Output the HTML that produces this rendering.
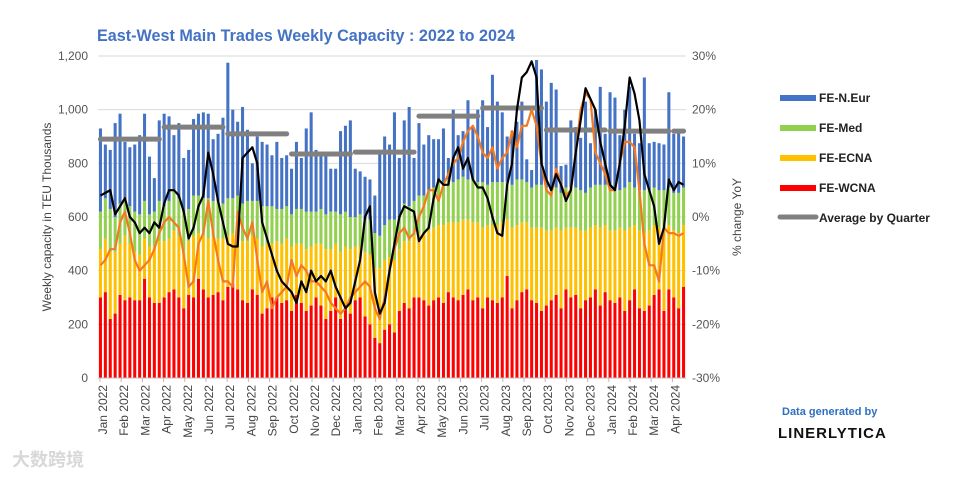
<!DOCTYPE html>
<html><head><meta charset="utf-8">
<style>
body{margin:0;background:#fff;width:958px;height:473px;overflow:hidden;font-family:"Liberation Sans Narrow","Liberation Sans",sans-serif;}
svg text{font-family:"Liberation Sans Narrow","Liberation Sans","Noto Sans CJK SC",sans-serif;}
</style></head>
<body>
<svg id="chart" width="958" height="473" xmlns="http://www.w3.org/2000/svg">
<text x="97" y="41" font-size="17" font-weight="bold" fill="#4472c4" textLength="418" lengthAdjust="spacingAndGlyphs">East-West Main Trades Weekly Capacity : 2022 to 2024</text>
<text transform="translate(51,217) rotate(-90)" text-anchor="middle" font-size="12" fill="#444">Weekly capacity in TEU Thousands</text>
<text transform="translate(741,217) rotate(-90)" text-anchor="middle" font-size="12" fill="#444">% change YoY</text>
<g id="grid"></g><g id="bars"></g><g id="avg"></g><g id="lines"></g><g id="axes"></g>
<g>
<rect x="780" y="95" width="36" height="6" fill="#4472c4"/>
<text x="819" y="102" font-size="12" font-weight="bold" fill="#222">FE-N.Eur</text>
<rect x="780" y="125" width="36" height="6" fill="#92d050"/>
<text x="819" y="132" font-size="12" font-weight="bold" fill="#222">FE-Med</text>
<rect x="780" y="155" width="36" height="6" fill="#ffc000"/>
<text x="819" y="162" font-size="12" font-weight="bold" fill="#222">FE-ECNA</text>
<rect x="780" y="185" width="36" height="6" fill="#ff0000"/>
<text x="819" y="192" font-size="12" font-weight="bold" fill="#222">FE-WCNA</text>
<line x1="780" y1="217" x2="816" y2="217" stroke="#808080" stroke-width="5" stroke-linecap="round"/>
<text x="819" y="222" font-size="12" font-weight="bold" fill="#222">Average by Quarter</text>
</g>
<text x="782" y="415" font-size="11" font-weight="bold" fill="#2e6fc0">Data generated by</text>
<text x="778" y="438" font-size="15" font-weight="bold" fill="#111" letter-spacing="1">LINERLYTICA</text>
<text x="12" y="466" font-size="18" font-weight="bold" fill="#d8d8d8">大数跨境</text>
</svg>
<script>
const red=[300,320,220,240,310,290,300,290,290,370,300,280,280,
300,320,330,300,260,310,300,370,330,300,310,320,290,
340,350,330,290,280,330,310,240,260,300,300,280,290,
250,310,280,250,270,300,270,220,250,300,220,260,240,
290,300,230,200,150,130,180,200,170,250,280,260,300,
300,290,270,290,300,280,320,300,290,310,330,290,300,
260,300,290,280,300,380,260,290,320,330,290,280,250,
270,290,310,260,330,300,310,260,290,300,330,270,320,
290,280,300,250,290,330,260,250,270,310,330,250,330,
300,260,340];
const yellow=[180,200,250,230,190,240,200,180,170,150,190,210,230,
210,200,220,230,210,200,230,170,200,220,220,200,230,
190,190,200,220,230,200,210,250,240,200,210,220,230,
240,190,220,230,220,200,230,260,230,200,250,230,240,
200,190,240,260,260,280,260,250,270,230,230,250,230,
240,250,280,270,270,290,260,280,290,280,260,290,280,
300,270,280,290,280,210,300,280,260,250,270,280,310,
280,260,250,290,230,260,250,290,260,260,240,290,250,
260,270,260,300,270,240,290,290,280,260,230,300,240,
250,280,230];
const green=[140,150,160,130,150,130,140,150,150,140,120,130,150,
130,140,150,140,150,120,150,140,140,150,130,140,130,
140,130,150,140,150,130,140,150,140,140,120,130,120,
120,130,130,140,130,120,130,130,140,120,140,130,120,
110,120,120,130,130,120,130,140,150,120,140,130,130,
140,140,150,150,160,150,160,150,160,160,150,160,150,
170,150,160,160,150,140,160,170,160,150,150,160,160,
160,150,150,140,150,150,150,150,140,150,150,160,150,
150,150,140,160,170,140,150,160,150,140,140,150,140,
140,150,140];
const total=[930,870,850,950,985,880,860,870,905,985,825,745,960,
985,975,905,950,820,850,965,985,990,985,890,910,970,
1175,1000,955,1010,925,800,900,880,870,830,880,820,830,
780,880,820,930,990,850,830,840,780,780,920,940,960,
780,770,750,740,680,850,900,870,990,820,960,1010,820,
950,870,905,890,890,930,820,1000,905,920,1035,935,1000,
1035,935,1130,1030,990,900,920,955,1030,815,775,1185,1150,
1030,1100,1075,790,795,960,935,895,1030,875,1000,1085,910,
1065,1045,905,1000,1085,910,875,1120,875,880,875,870,1065,
910,920,900];
const yoyBlack=[4,4.5,5,0.5,2,3.5,0,-1,-3,-2,-3,-1,-2,
2.5,5,5,4,1,-4,-2,2,4,12,8,3,-1,
-5,-5.5,-5.5,11,12,13,10,-1,-4,-7,-10,-12,-13,
-14,-16,-12,-14,-10,-12,-11,-12,-10,-13,-15,-17,-16,
-12,-8,0,2,-14,-18,-16,-10,-5,0,2,1.5,1,
-4.5,-3,-2,3.5,7,6,6,11,13,9,11,7,5.5,
5.5,3.5,0,-3,-3.5,6,10,20,26,27,29,26,10,
7,5,8,6,3,5,12,18,24,22,20,14,10,
6,5,10,17,26,23,18,8,5,2,-5,-2,7,
5,6.5,6];
const yoyOrange=[-9,-8,-6,-6,-1,1,-3,-8,-10,-9,-8,-6,-3,
-1,0,-1,-2,-7,-13,-12,-5,-3,3,-3,-8,-12,
-12,-13,1,-2,-4,-1,-8,-14,-12,-17,-15,-14,-13,
-8,-11,-9,-10,-12,-12,-13,-14,-16,-17,-18,-17,-15,
-14,-13,-12,-13,-17,-19,-15,-10,-6,-3,-2,-4,-3,
0,2,5,5,3,6,8,10,11,14,16,17,15,
12,11,13,9,11,12,16,13,17,17,20,17,10,
5,4,9,6,4,5,12,20,23,22,12,10,8,
5,5,10,14,14,13,5,-5,-9,-9,-12,-2,-3,
-3,-3.5,-3];
const qAvg=[890,935,910,835,842,976,1006,924,920,920];
const monthLabels=["Jan 2022","Feb 2022","Mar 2022","Apr 2022","May 2022","Jun 2022","Jul 2022","Aug 2022","Sep 2022","Oct 2022","Nov 2022","Dec 2022","Jan 2023","Feb 2023","Mar 2023","Apr 2023","May 2023","Jun 2023","Jul 2023","Aug 2023","Sep 2023","Oct 2023","Nov 2023","Dec 2023","Jan 2024","Feb 2024","Mar 2024","Apr 2024"];
const leftTicks=[0,200,400,600,800,1000,1200];
const rightTicks=[-30,-20,-10,0,10,20,30];

const NS="http://www.w3.org/2000/svg";
const X0=98,X1=686,Y0=378,Y1=56,N=total.length,step=(X1-X0)/N;
const xw=i=>X0+step*(i+0.5);
const yL=v=>Y0-(v/1200)*(Y0-Y1);
const yR=p=>Y0-((p+30)/60)*(Y0-Y1);
function el(tag,attrs,parent){const e=document.createElementNS(NS,tag);for(const k in attrs)e.setAttribute(k,attrs[k]);parent.appendChild(e);return e;}
const grid=document.getElementById('grid'),bars=document.getElementById('bars'),avg=document.getElementById('avg'),lines=document.getElementById('lines'),axes=document.getElementById('axes');
leftTicks.forEach(v=>{
  const g=el('line',{x1:X0,x2:X1,y1:yL(v),y2:yL(v),stroke:'#d9d9d9','stroke-width':1},grid);
  
  
  const t=el('text',{x:88,y:yL(v)+4,'text-anchor':'end','font-size':12,fill:'#555'},axes);
  t.textContent=v.toLocaleString('en-US');
  
  
});
rightTicks.forEach(p=>{
  const t=el('text',{x:692,y:yR(p)+4,'font-size':12,fill:'#555'},axes);
  t.textContent=p+'%';
  
  
});
const bw=step*0.62;
for(let i=0;i<N;i++){
  const segs=[[0,red[i],'#ff0000'],[red[i],red[i]+yellow[i],'#ffc000'],[red[i]+yellow[i],red[i]+yellow[i]+green[i],'#92d050'],[red[i]+yellow[i]+green[i],total[i],'#4472c4']];
  segs.forEach((s,j)=>{
    const r=el('rect',{x:xw(i)-bw/2,y:yL(s[1]),width:bw,height:Math.max(0,yL(s[0])-yL(s[1])),fill:s[2]},bars);
    
    
  });
}
qAvg.forEach((v,q)=>{
  const a=q*13,b=Math.min(N-1,q*13+12);
  const l=el('line',{x1:xw(a),x2:xw(b),y1:yL(v),y2:yL(v),stroke:'#808080','stroke-width':5,'stroke-linecap':'round'},avg);
  
  
});
const po=el('polyline',{points:yoyOrange.map((p,i)=>xw(i)+','+yR(p)).join(' '),fill:'none',stroke:'#f47920','stroke-width':2.2,'stroke-linejoin':'round'},lines);


const pb=el('polyline',{points:yoyBlack.map((p,i)=>xw(i)+','+yR(p)).join(' '),fill:'none',stroke:'#000','stroke-width':2.2,'stroke-linejoin':'round'},lines);


const ax=el('line',{x1:X0,x2:X1,y1:Y0,y2:Y0,stroke:'#bbb'},axes);


monthLabels.forEach((m,i)=>{
  const x=100+i*21.2;
  const tk=el('line',{x1:x,x2:x,y1:Y0,y2:Y0+4,stroke:'#bbb'},axes);
  
  
  const t=el('text',{transform:`translate(${x+7},${Y0+7}) rotate(-90)`,'text-anchor':'end','font-size':12,fill:'#444'},axes);
  t.textContent=m;
  
  
});
</script>
</body></html>
